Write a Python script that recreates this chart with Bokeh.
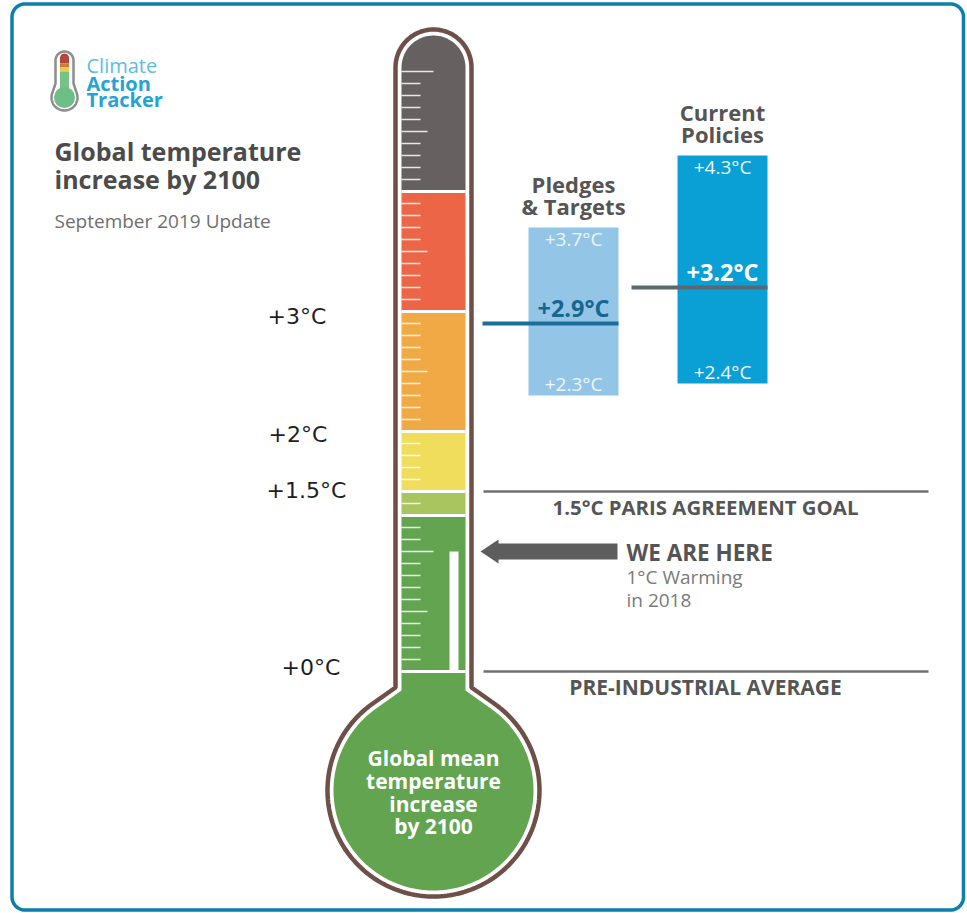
import numpy as np
from bokeh.plotting import figure
from bokeh.models import Range1d
from bokeh.core.properties import value
from bokeh.embed import file_html
from bokeh.resources import INLINE

# ---------------- data ----------------
band_bottoms = [0.0, 1.3, 1.5, 2.0, 3.0, 4.0]          # °C, lower edge of each colour band
band_colors = ["#62a44f", "#a9c55f", "#f0dd5b", "#f1a946", "#ec6546", "#666060"]
scale_values = [0.0, 1.5, 2.0, 3.0]
scale_labels = ["+0°C", "+1.5°C", "+2°C", "+3°C"]
scenario_names = ["Pledges\n& Targets", "Current\nPolicies"]
scenario_low = [2.3, 2.4]
scenario_high = [3.7, 4.3]
scenario_mid = [2.9, 3.2]
warming_now = 1.0
warming_year = 2018
reference_values = [1.5, 0.0]
reference_labels = ["1.5°C PARIS AGREEMENT GOAL", "PRE-INDUSTRIAL AVERAGE"]
tick_values = [round(0.1 * i, 1) for i in range(1, 51)]

# ---------------- layout helpers ----------------
W, H = 967, 913
Y_ZERO = 671      # screen y of 0 °C
PX = 120.0        # pixels per °C


def ty(y):
    return (Y_ZERO - y) / PX


def dy(px):
    return px / PX


p = figure(width=W, height=H, x_range=Range1d(0, W), y_range=Range1d(ty(H), ty(0)),
           output_backend="svg", toolbar_location=None, x_axis_location=None,
           y_axis_location=None, min_border=0)
p.xgrid.visible = False
p.ygrid.visible = False
p.outline_line_color = None
p.background_fill_color = "white"
p.border_fill_color = "white"

FONT = "Open Sans"


def txt(x, y, s, size, color, bold=False, align="left", font=FONT, k=0.4):
    # y is the wanted alphabetic baseline (data units); k compensates Bokeh's box placement
    p.text(x=[x], y=[y + dy(k * size)], text=[s], text_font=value(font),
           text_font_size=f"{size}px", text_color=color,
           text_font_style="bold" if bold else "normal",
           text_align=align, text_baseline="alphabetic")


def rounded_rect(x0, y0, x1, y1, r, n=16):
    xs, ys = [], []
    for (cx, cy, a0, a1) in [(x0 + r, y0 + r, np.pi, 1.5 * np.pi),
                             (x1 - r, y0 + r, 1.5 * np.pi, 2 * np.pi),
                             (x1 - r, y1 - r, 0, 0.5 * np.pi),
                             (x0 + r, y1 - r, 0.5 * np.pi, np.pi)]:
        a = np.linspace(a0, a1, n)
        xs += list(cx + r * np.cos(a))
        ys += list(cy + r * np.sin(a))
    return xs, ys


def thermo_outline(cx, w, top_cy, R, cy, ys, n=60):
    xs, yy = [], []
    a = np.linspace(np.pi, 0, n)
    xs += list(cx + w * np.cos(a))
    yy += list(top_cy - w * np.sin(a))
    dist = np.hypot(w, ys - cy)
    alpha = np.arccos(R / dist)
    a_r = np.arctan2(ys - cy, w) + alpha
    a_l = np.arctan2(ys - cy, -w) - alpha + 2 * np.pi
    xs.append(cx + w); yy.append(ys)
    a = np.linspace(a_r, a_l, 3 * n)
    xs += list(cx + R * np.cos(a))
    yy += list(cy + R * np.sin(a))
    xs.append(cx - w); yy.append(ys)
    return xs, yy


def bulb_fill(cx, w, R, cy, ys, ytop, n=180):
    xs, yy = [cx + w, cx + w], [ytop, ys]
    dist = np.hypot(w, ys - cy)
    alpha = np.arccos(R / dist)
    a_r = np.arctan2(ys - cy, w) + alpha
    a_l = np.arctan2(ys - cy, -w) - alpha + 2 * np.pi
    a = np.linspace(a_r, a_l, n)
    xs += list(cx + R * np.cos(a))
    yy += list(cy + R * np.sin(a))
    xs += [cx - w, cx - w]
    yy += [ys, ytop]
    return xs, yy


# ---------------- frame ----------------
bx, by = rounded_rect(11.5, 3.5, 963, 909.5, 13)
p.patch(bx, [ty(v) for v in by], fill_alpha=0, line_color="#0d7fab", line_width=3.5)

# ---------------- thermometer ----------------
CX = 433
FL, FR = 401, 465          # fill left/right
TOP_CY = 67
ox, oy = thermo_outline(CX, 38, TOP_CY, 106, 790, 687)
p.patch(ox, [ty(v) for v in oy], fill_color="white", line_color="#6e5048", line_width=4.5)

# colour bands (all but the top one as quads)
tops = band_bottoms[1:]
p.quad(left=FL, right=FR, bottom=band_bottoms[:-1], top=tops, fill_color=band_colors[:-1],
       line_color=None)
# top band with rounded cap
a = np.linspace(np.pi, 0, 50)
gx = [FL] + list(CX + 32 * np.cos(a)) + [FR]
gy = [band_bottoms[-1]] + list(ty(TOP_CY - 32 * np.sin(a))) + [band_bottoms[-1]]
p.patch(gx, gy, fill_color=band_colors[-1], line_color=None)

# bulb
bxs, bys = bulb_fill(CX, 32, 100, 790, 690, Y_ZERO)
p.patch(bxs, [ty(v) for v in bys], fill_color=band_colors[0], line_color=None)

# separators between bands
p.segment(x0=FL, x1=FR, y0=band_bottoms, y1=band_bottoms, line_color="white", line_width=3)

# scale ticks
tv = [t for t in tick_values if t not in band_bottoms]
tl = [32 if abs(t - round(t)) < 1e-9 else (26 if abs(t * 2 - round(t * 2)) < 1e-9 else 19)
      for t in tv]
p.segment(x0=[FL] * len(tv), x1=[FL + l for l in tl], y0=tv, y1=tv, line_color="white",
          line_alpha=0.85, line_width=1.5)

# current warming column
p.quad(left=449, right=458, bottom=0.0, top=warming_now, fill_color="white", line_color=None)

# bulb text
for s, b in zip(["Global mean", "temperature", "increase", "by 2100"], [766, 789, 811.5, 834]):
    txt(CX, ty(b), s, 21, "white", bold=True, align="center")

# scale labels
label_x = [281, 266, 268, 267]
label_dy = [4, 7, 11, 13]
for v, s, x, d in zip(scale_values, scale_labels, label_x, label_dy):
    txt(x, v - dy(d), s, 22, "#1e1e1e", font="DejaVu Sans", k=0.36)

# ---------------- scenarios ----------------
box_l = [528, 677]
box_r = [618, 767]
line_l = [482, 631]
p.quad(left=box_l, right=box_r, bottom=scenario_low, top=scenario_high,
       fill_color=["#93c5e7", "#0aa0d5"], line_color=None)
p.segment(x0=line_l, x1=box_r, y0=scenario_mid, y1=scenario_mid,
          line_color=["#1b6e97", "#5a6872"], line_width=4)
mid_col = ["#17668f", "white"]
for i in range(2):
    c = (box_l[i] + box_r[i]) / 2
    txt(c, scenario_high[i] - dy(19.5), f"+{scenario_high[i]:.1f}°C", 19, "#eef6fb", align="center")
    txt(c, scenario_low[i] + dy(3.5), f"+{scenario_low[i]:.1f}°C", 19, "#eef6fb", align="center")
    txt(c, scenario_mid[i] + dy(6.5), f"+{scenario_mid[i]:.1f}°C", 23.5, mid_col[i], bold=True,
        align="center")
    lines = scenario_names[i].split("\n")
    for j, s in enumerate(reversed(lines)):
        txt(c, scenario_high[i] + dy(13 + 22 * j), s, 22, "#555555", bold=True, align="center")

# ---------------- reference lines ----------------
p.segment(x0=483, x1=928, y0=reference_values, y1=reference_values, line_color="#707070",
          line_width=2.5)
for v, s, fs in zip(reference_values, reference_labels, [20.4, 21]):
    txt(705, v - dy(24), s, fs, "#555555", bold=True, align="center")

# we are here arrow
p.quad(left=496, right=617, bottom=warming_now - dy(8), top=warming_now + dy(8),
       fill_color="#5d5d5d", line_color=None)
p.patch([480, 498, 498], [warming_now, warming_now + dy(12), warming_now - dy(12)],
        fill_color="#5d5d5d", line_color=None)
txt(626, warming_now - dy(9.7), "WE ARE HERE", 22.5, "#555555", bold=True)
txt(626, warming_now - dy(33), f"{warming_now:.0f}°C Warming", 19, "#7a7a7a")
txt(626, warming_now - dy(55.7), f"in {warming_year}", 19, "#7a7a7a")

# ---------------- header ----------------
txt(54, ty(160), "Global temperature", 25, "#4b4b4b", bold=True)
txt(54, ty(188.5), "increase by 2100", 25, "#4b4b4b", bold=True)
txt(54, ty(228), "September 2019 Update", 19, "#6e6e6e")

# logo
lx, ly = thermo_outline(64, 9, 60, 13, 97, 83, n=30)
p.patch(lx, [ty(v) for v in ly], fill_color="white", line_color="#8d8d8d", line_width=2.5)
seg_b = [63, 67, 71, 92]
seg_t = [57, 63, 67, 71]
p.quad(left=59.5, right=68.5, bottom=[ty(v) for v in seg_b], top=[ty(v) for v in seg_t],
       fill_color=["#b3473a", "#cf7a3f", "#e2cd4f", "#76c289"], line_color=None)
p.scatter(x=[64], y=[ty(57.5)], size=9, marker="circle", fill_color="#b3473a", line_color=None)
p.scatter(x=[64], y=[ty(97)], size=21, marker="circle", fill_color="#6dbf86", line_color=None)
txt(86, ty(72.5), "Climate", 20, "#5cbde2")
txt(86, ty(90.5), "Action", 20, "#25a3d6", bold=True)
txt(86, ty(107), "Tracker", 20, "#25a3d6", bold=True)

open("out.html", "w").write(file_html(p, INLINE))
